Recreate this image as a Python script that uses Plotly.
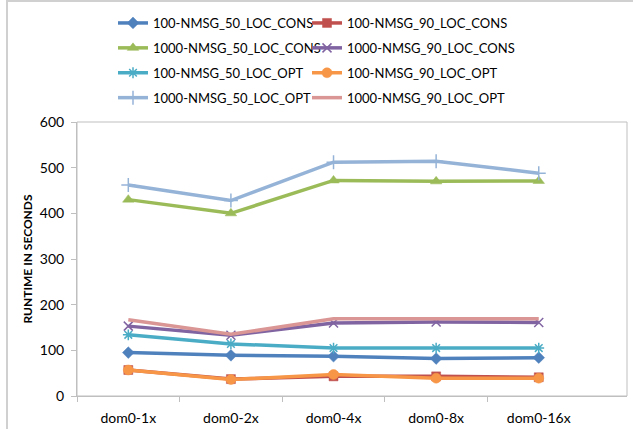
import plotly.graph_objects as go

categories = ["dom0-1x", "dom0-2x", "dom0-4x", "dom0-8x", "dom0-16x"]

s_100_50_cons = [95, 89, 87, 82, 84]
s_100_90_cons = [57, 37, 43, 43, 41]
s_1000_50_cons = [430, 400, 472, 470, 471]
s_1000_90_cons = [153, 133, 160, 162, 161]
s_100_50_opt = [134, 114, 105, 105, 105]
s_100_90_opt = [57, 36, 47, 39, 39]
s_1000_50_opt = [462, 428, 512, 514, 488]
s_1000_90_opt = [167, 135, 169, 169, 169]

series_names = [
    "100-NMSG_50_LOC_CONS", "100-NMSG_90_LOC_CONS",
    "1000-NMSG_50_LOC_CONS", "1000-NMSG_90_LOC_CONS",
    "100-NMSG_50_LOC_OPT", "100-NMSG_90_LOC_OPT",
    "1000-NMSG_50_LOC_OPT", "1000-NMSG_90_LOC_OPT",
]
series_values = [s_100_50_cons, s_100_90_cons, s_1000_50_cons, s_1000_90_cons,
                 s_100_50_opt, s_100_90_opt, s_1000_50_opt, s_1000_90_opt]

styles = [
    dict(color="#4F81BD", symbol="diamond", size=9),
    dict(color="#C0504D", symbol="square", size=9),
    dict(color="#9BBB59", symbol="triangle-up", size=10),
    dict(color="#8064A2", symbol="x-thin-open", size=9),
    dict(color="#4BACC6", symbol="asterisk-open", size=9),
    dict(color="#F79646", symbol="circle", size=10),
    dict(color="#95B3D7", symbol="cross-thin-open", size=10),
    dict(color="#D99694", symbol=None, size=0),
]

FONT = "Lato, Open Sans, sans-serif"

fig = go.Figure()
for i, (name, vals, st) in enumerate(zip(series_names, series_values, styles)):
    mode = "lines+markers" if st["symbol"] else "lines"
    marker = dict(color=st["color"], size=st["size"])
    if st["symbol"]:
        marker["symbol"] = st["symbol"]
        if "open" in st["symbol"]:
            marker["line"] = dict(color=st["color"], width=1.5)
        else:
            marker["line"] = dict(color=st["color"], width=0.5)
    fig.add_trace(go.Scatter(
        x=categories, y=vals, name=name, mode=mode,
        line=dict(color=st["color"], width=3.5),
        marker=marker,
        legend="legend" if i % 2 == 0 else "legend2",
        legendgroup=name,
    ))

L, R, T, B = 77, 6, 122, 33
W, H = 633, 429
pw, ph = W - L - R, H - T - B

def px2x(px):
    return (px - L) / pw

def py2y(py):
    return 1 + (T - py) / ph

XR = [-0.5, 4.86]
boundaries = [i - 0.5 for i in range(len(categories))]

# invisible helper trace so the boundary-tick axis is drawn
fig.add_trace(go.Scatter(
    x=boundaries, y=[None] * len(boundaries), xaxis="x2", yaxis="y",
    mode="markers", marker=dict(opacity=0), showlegend=False, hoverinfo="skip",
))

legend_common = dict(
    font=dict(family=FONT, size=13, color="#000000"),
    bgcolor="rgba(0,0,0,0)",
    yanchor="top", xanchor="left",
    tracegroupgap=5,
    traceorder="grouped",
    itemwidth=30,
)

fig.update_layout(
    width=W, height=H,
    margin=dict(l=L, r=R, t=T, b=B, autoexpand=False),
    paper_bgcolor="white", plot_bgcolor="white",
    font=dict(family=FONT, size=13, color="#000000"),
    showlegend=True,
    legend=dict(x=px2x(113), y=py2y(8), **legend_common),
    legend2=dict(x=px2x(307), y=py2y(8), **legend_common),
    xaxis=dict(
        type="category", range=XR, automargin=False,
        showline=True, linecolor="#BFBFBF", linewidth=1,
        showgrid=False, zeroline=False,
        ticks="",
        ticklabelstandoff=9,
        tickfont=dict(family=FONT, size=14, color="#000000"),
    ),
    xaxis2=dict(
        overlaying="x", anchor="y", side="bottom", range=XR, automargin=False,
        tickmode="array", tickvals=boundaries, showticklabels=False,
        ticks="outside", ticklen=5, tickcolor="#BFBFBF",
        showline=False, showgrid=False, zeroline=False,
    ),
    yaxis=dict(
        range=[0, 600], dtick=100, automargin=False,
        showline=True, linecolor="#BFBFBF", linewidth=1,
        showgrid=False, zeroline=False,
        ticks="outside", ticklen=5, tickcolor="#BFBFBF",
        ticklabelstandoff=4,
        tickfont=dict(family=FONT, size=14, color="#000000"),
        title=dict(text="<b>RUNTIME IN SECONDS</b>", font=dict(family=FONT, size=12, color="#000000"), standoff=4),
    ),
    shapes=[
        dict(type="rect", xref="paper", yref="paper", x0=0, x1=1, y0=0, y1=1,
             line=dict(color="#BFBFBF", width=1), layer="below"),
        dict(type="line", xref="paper", yref="paper", x0=px2x(7), x1=px2x(7), y0=py2y(0), y1=py2y(H),
             line=dict(color="#D0D0D0", width=2)),
        dict(type="line", xref="paper", yref="paper", x0=px2x(7), x1=px2x(W), y0=py2y(1), y1=py2y(1),
             line=dict(color="#D0D0D0", width=2)),
    ],
)

fig.write_html("out.html")
